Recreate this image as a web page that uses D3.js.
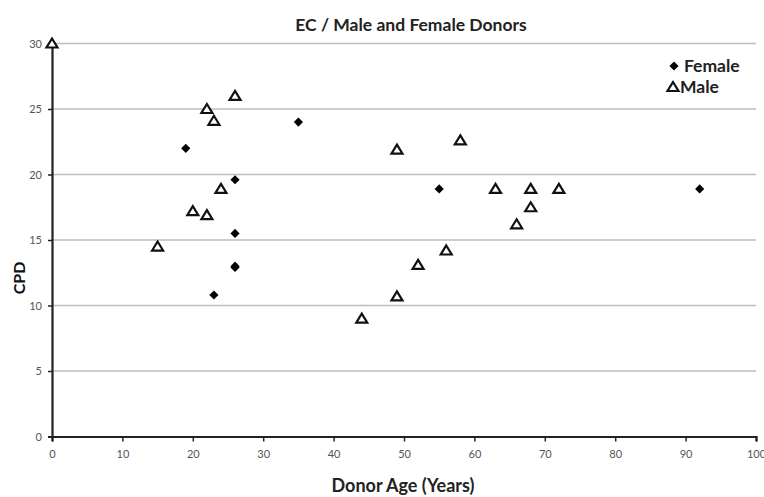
<!DOCTYPE html>
<html><head><meta charset="utf-8">
<script src="https://cdn.jsdelivr.net/npm/d3@7"></script>
<style>body{margin:0;background:#fff;} svg{display:block;}</style>
</head><body>
<svg id="c" width="764" height="497"></svg>
<script>
const xTicks = [0,10,20,30,40,50,60,70,80,90,100];
const yTicks = [0,5,10,15,20,25,30];
const femaleAge = [19, 26, 35, 26, 26, 26, 23, 55, 92];
const femaleCPD = [22, 19.6, 24.0, 15.5, 12.9, 13.0, 10.8, 18.9, 18.9];
const maleAge = [0, 22, 23, 26, 24, 20, 22, 15, 49, 58, 63, 68, 72, 68, 66, 56, 52, 49, 44];
const maleCPD = [30, 25.0, 24.1, 26.0, 18.9, 17.2, 16.9, 14.5, 21.9, 22.6, 18.9, 18.9, 18.9, 17.5, 16.2, 14.2, 13.1, 10.7, 9.0];

const svg = d3.select("#c");
const font = "Lato, 'Open Sans', sans-serif";
const x = d3.scaleLinear().domain([0,100]).range([52,756]);
const y = d3.scaleLinear().domain([0,30]).range([436.5,43.5]);

// gridlines
svg.append("g").selectAll("line").data(yTicks.filter(d=>d>0)).join("line")
  .attr("x1", x(0)).attr("x2", x(100))
  .attr("y1", d=>y(d)).attr("y2", d=>y(d))
  .attr("stroke", "#bdbdbd").attr("stroke-width", 1.5);

// axes
const xAxis = d3.axisBottom(x).tickValues(xTicks).tickSize(5).tickPadding(9).tickFormat(d3.format("d"));
const gx = svg.append("g").attr("transform", `translate(0,${y(0)})`).call(xAxis);
gx.select(".domain").attr("stroke", "#222").attr("stroke-width", 2.2);
gx.selectAll(".tick line").attr("stroke", "#222").attr("stroke-width", 1.5);
gx.selectAll(".tick text").attr("font-family", font).attr("font-size", 11).attr("fill", "#555");

const yAxis = d3.axisLeft(y).tickValues(yTicks).tickSize(4).tickPadding(6);
const gy = svg.append("g").attr("transform", `translate(${x(0)},0)`).call(yAxis);
gy.select(".domain").attr("stroke", "#222").attr("stroke-width", 2.2);
gy.selectAll(".tick line").attr("stroke", "#222").attr("stroke-width", 1.5);
gy.selectAll(".tick text").attr("font-family", font).attr("font-size", 11).attr("fill", "#555");

// markers
const tri = "M0,-5L5.5,4L-5.5,4Z";
const dia = d3.symbol().type(d3.symbolSquare).size(42);

svg.append("g").selectAll("path").data(maleAge.map((a,i)=>[a,maleCPD[i]])).join("path")
  .attr("d", tri)
  .attr("transform", d=>`translate(${x(d[0])},${y(d[1])})`)
  .attr("fill", "#fff").attr("stroke", "#111").attr("stroke-width", 2.2).attr("stroke-linejoin","miter");

svg.append("g").selectAll("path").data(femaleAge.map((a,i)=>[a,femaleCPD[i]])).join("path")
  .attr("d", dia)
  .attr("transform", d=>`translate(${x(d[0])},${y(d[1])}) rotate(45)`)
  .attr("fill", "#000");

// title
svg.append("text").attr("x", 411).attr("y", 31).attr("text-anchor","middle")
  .attr("font-family", font).attr("font-weight","bold").attr("font-size", 17.5).attr("fill","#222")
  .text("EC / Male and Female Donors");

// axis titles
svg.append("text").attr("x", 403).attr("y", 492).attr("text-anchor","middle")
  .attr("font-family", font).attr("font-weight","bold").attr("font-size", 18).attr("fill","#222")
  .text("Donor Age (Years)");
svg.append("text").attr("transform","translate(25,278) rotate(-90)").attr("text-anchor","middle")
  .attr("font-family", font).attr("font-weight","bold").attr("font-size", 16).attr("fill","#111")
  .text("CPD");

// legend
const lg = svg.append("g");
lg.append("path").attr("d", dia)
  .attr("transform","translate(674,66) rotate(45)").attr("fill","#000");
lg.append("text").attr("x", 684).attr("y", 72).attr("font-family", font).attr("font-weight","bold")
  .attr("font-size", 17.5).attr("fill","#222").text("Female");
lg.append("path").attr("d", tri).attr("transform","translate(673,87)")
  .attr("fill","#fff").attr("stroke","#111").attr("stroke-width",2.2);
lg.append("text").attr("x", 680).attr("y", 93).attr("font-family", font).attr("font-weight","bold")
  .attr("font-size", 17.5).attr("fill","#222").text("Male");
</script>
</body></html>
